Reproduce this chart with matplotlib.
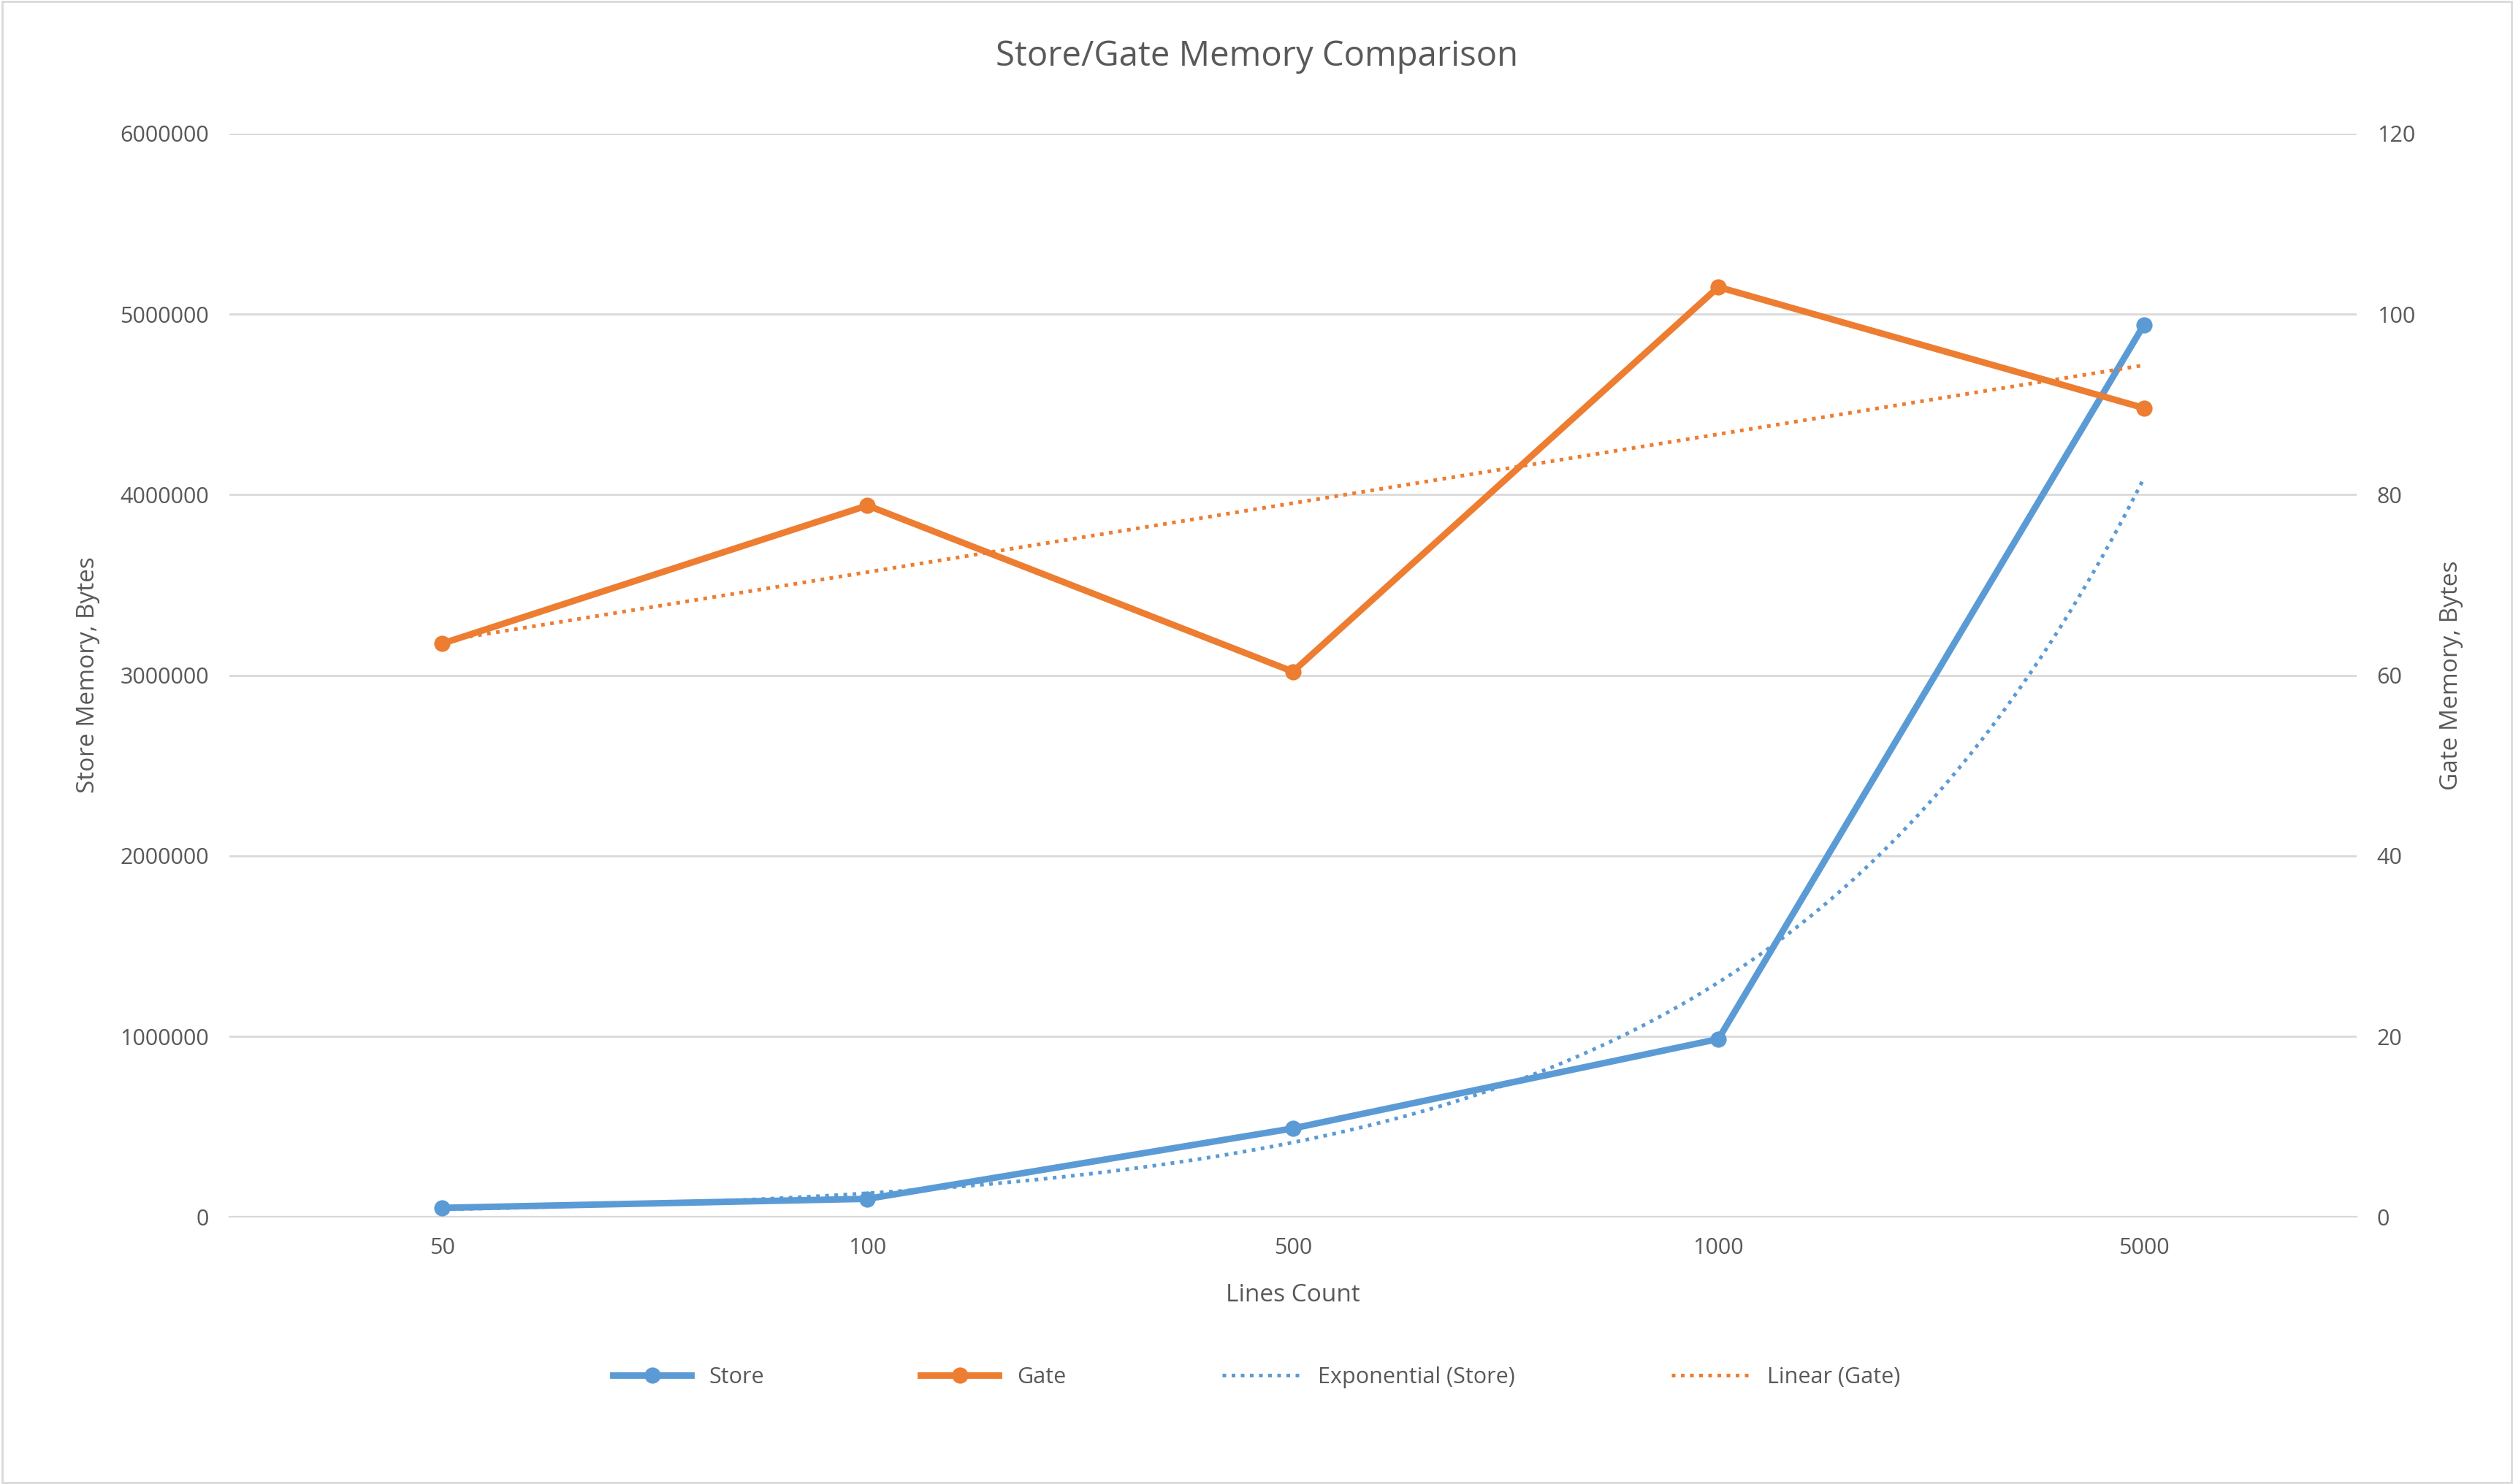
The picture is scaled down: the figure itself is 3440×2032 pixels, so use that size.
import numpy as np
import matplotlib.pyplot as plt
from matplotlib.lines import Line2D

plt.rcParams['font.family'] = ['Open Sans', 'DejaVu Sans']

lines = ["50", "100", "500", "1000", "5000"]
store = [50000, 100000, 490000, 985000, 4940000]
gate = [63.5, 78.8, 60.4, 103.0, 89.6]

blue = "#5B9BD5"
orange = "#ED7D31"
grey = "#595959"

fig = plt.figure(figsize=(17.205, 10.16), dpi=200)
fig.patches.append(plt.Rectangle((0.001, 0.001), 0.998, 0.998, transform=fig.transFigure,
                                 fill=False, edgecolor="#D9D9D9", linewidth=1))
ax = fig.add_axes([0.0912, 0.180, 0.8463, 0.730])
ax2 = ax.twinx()

x = np.arange(len(lines))
xt = x + 1

# trendlines as Excel computes them (on category index 1..n)
b, a = np.polyfit(xt, np.log(store), 1)
xs = np.linspace(1, 5, 200)
ax.plot(xs - 1, np.exp(a) * np.exp(b * xs), color=blue, linestyle=(0, (1, 1.5)), linewidth=1.8)
m, c = np.polyfit(xt, gate, 1)
ax2.plot(x, m * xt + c, color=orange, linestyle=(0, (1, 1.5)), linewidth=1.8)

ax.plot(x, store, color=blue, linewidth=3.2, marker="o", markersize=7, zorder=5)
ax2.plot(x, gate, color=orange, linewidth=3.2, marker="o", markersize=7, zorder=5)

ax.set_xlim(-0.5, 4.5)
ax.set_ylim(0, 6000000)
ax.set_yticks(np.arange(0, 6000001, 1000000))
ax.set_yticklabels([str(v) for v in range(0, 6000001, 1000000)])
ax2.set_ylim(0, 120)
ax2.set_yticks(np.arange(0, 121, 20))
ax.set_xticks(x)
ax.set_xticklabels(lines)
ax.grid(axis="y", color="#D9D9D9", linewidth=1)
ax.set_axisbelow(True)
for a_ in (ax, ax2):
    for s in a_.spines.values():
        s.set_visible(False)
    a_.tick_params(length=0, labelsize=11, labelcolor=grey, pad=10)
ax.spines["bottom"].set_visible(True)
ax.spines["bottom"].set_color("#D9D9D9")

ax.set_xlabel("Lines Count", fontsize=12, color=grey, labelpad=12)
ax.set_ylabel("Store Memory, Bytes", fontsize=12, color=grey, labelpad=10)
ax2.set_ylabel("Gate Memory, Bytes", fontsize=12, color=grey, labelpad=12)
fig.text(0.5, 0.962, "Store/Gate Memory Comparison", ha="center", va="center", fontsize=17, color=grey)

handles = [
    Line2D([], [], color=blue, linewidth=3.2, marker="o", markersize=7),
    Line2D([], [], color=orange, linewidth=3.2, marker="o", markersize=7),
    Line2D([], [], color=blue, linestyle=(0, (1, 1.5)), linewidth=1.8),
    Line2D([], [], color=orange, linestyle=(0, (1, 1.5)), linewidth=1.8),
]
fig.legend(handles, ["Store", "Gate", "Exponential (Store)", "Linear (Gate)"], loc="center",
           bbox_to_anchor=(0.5, 0.072), ncol=4, frameon=False, fontsize=11,
           labelcolor=grey, handlelength=3.5, columnspacing=7)

fig.savefig("out.png", dpi=200)
